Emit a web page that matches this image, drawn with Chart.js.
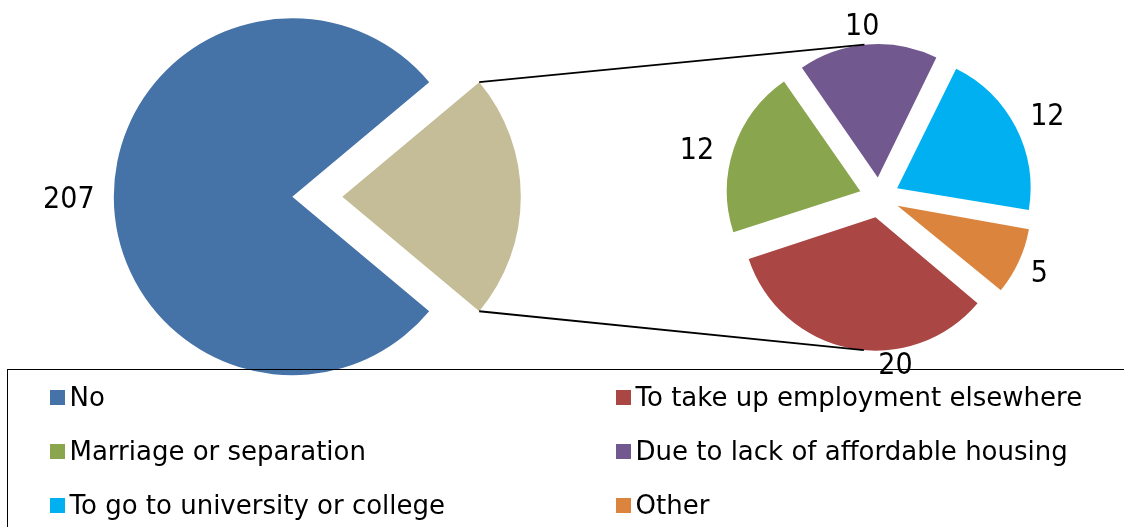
<!DOCTYPE html>
<html>
<head>
<meta charset="utf-8">
<script src="https://cdn.jsdelivr.net/npm/chart.js@4/dist/chart.umd.min.js"></script>
<style>
  html, body { margin: 0; padding: 0; background: #ffffff; }
  #stage { position: relative; width: 1124px; height: 527px; overflow: hidden; background: #ffffff; }
  #stage canvas { position: absolute; left: 0; top: 0; }
  #legend {
    position: absolute; left: 7px; top: 369px; width: 1200px; height: 220px;
    border: 1.5px solid #000; box-sizing: border-box;
    font-family: "DejaVu Sans", sans-serif; font-size: 26px; color: #000;
  }
  #legend .item { position: absolute; display: flex; align-items: center; height: 54px; white-space: nowrap; }
  #legend .box { width: 15px; height: 15px; margin-right: 5px; flex: none; }
</style>
</head>
<body>
<div id="stage">
  <canvas id="mainPie" width="1124" height="527"></canvas>
  <canvas id="subPie" width="1124" height="527"></canvas>
  <div id="legend"></div>
</div>
<script>
// ---- data ----
const mainCategories = ['No', 'Other reasons'];
const noCount = 207;
const reasonCategories = [
  'To take up employment elsewhere',
  'Marriage or separation',
  'Due to lack of affordable housing',
  'To go to university or college',
  'Other'
];
const reasonValues = [20, 12, 10, 12, 5];
const mainValues = [noCount, reasonValues.reduce((a, b) => a + b, 0)];

// ---- styles ----
const mainColors = ['#4572A7', '#C4BD97'];
const reasonColors = ['#AA4643', '#89A54E', '#71588F', '#00B0F0', '#DB843D'];
const labelSize = 30;
const labelFont = labelSize + 'px "DejaVu Sans Condensed", "DejaVu Sans", sans-serif';
const W = 1124, H = 527;
const mainCenter = { x: 292.3, y: 196.7 }, mainRadius = 178.5;
const subCenter = { x: 879.3, y: 197.5 }, subRadius = 133.5;
const mainSplitOffset = 200;   // Chart.js draws offset/4 => 50px
const subOffset = 80;          // => 20px
const rotationDeg = 90 + 180 * mainValues[1] / (mainValues[0] + mainValues[1]);

function padFor(c) {
  return {
    left: Math.max(0, 2 * c.x - W), right: Math.max(0, W - 2 * c.x),
    top: Math.max(0, 2 * c.y - H), bottom: Math.max(0, H - 2 * c.y)
  };
}

// keep exploded slices at the nominal radius (Chart.js grows offset arcs slightly)
const radiusFix = {
  id: 'radiusFix',
  beforeDatasetsDraw(chart) {
    const meta = chart.getDatasetMeta(0);
    const R = meta.controller.outerRadius;
    meta.data.forEach(arc => {
      const off = (arc.options.offset || 0) / 4;
      const circ = arc.endAngle - arc.startAngle;
      const fix = 1 - Math.sin(Math.min(Math.PI, circ));
      arc.outerRadius = R - off * fix;
    });
  }
};

function apexOf(arc) {
  const off = (arc.options.offset || 0) / 4;
  const mid = (arc.startAngle + arc.endAngle) / 2;
  return { x: arc.x + Math.cos(mid) * off, y: arc.y + Math.sin(mid) * off, mid };
}

const pieLabels = {
  id: 'pieLabels',
  afterDatasetsDraw(chart, args, opts) {
    const meta = chart.getDatasetMeta(0);
    const R = meta.controller.outerRadius;
    const values = chart.data.datasets[0].data;
    const ctx = chart.ctx;
    ctx.save();
    ctx.font = labelFont;
    ctx.fillStyle = '#000';
    ctx.textAlign = 'center';
    ctx.textBaseline = 'alphabetic';
    meta.data.forEach((arc, i) => {
      const n = opts.place[i];
      if (!n) return;
      const a = apexOf(arc);
      const ang = a.mid + n.da * Math.PI / 180;
      const d = R + n.dr;
      const x = a.x + Math.cos(ang) * d;
      const y = a.y + Math.sin(ang) * d;
      ctx.fillText(String(values[i]), x, y + labelSize * 0.729 / 2);
    });
    ctx.restore();
  }
};

const mainChart = new Chart(document.getElementById('mainPie'), {
  type: 'pie',
  data: {
    labels: mainCategories,
    datasets: [{
      data: mainValues,
      backgroundColor: mainColors,
      borderWidth: 0,
      offset: [0, mainSplitOffset],
      hoverOffset: 0,
      radius: mainRadius,
      rotation: rotationDeg,
      clip: false
    }]
  },
  options: {
    responsive: false,
    animation: false,
    events: [],
    layout: { padding: padFor(mainCenter), autoPadding: false },
    plugins: {
      legend: { display: false },
      tooltip: { enabled: false },
      pieLabels: { place: [{ da: 0, dr: 45 }, null] }
    }
  },
  plugins: [radiusFix, pieLabels]
});

const connectors = {
  id: 'connectors',
  afterDatasetsDraw(chart) {
    const mArc = mainChart.getDatasetMeta(0).data[1];
    const mR = mainChart.getDatasetMeta(0).controller.outerRadius;
    const a = apexOf(mArc);
    const sMeta = chart.getDatasetMeta(0);
    const s0 = sMeta.data[0];
    const cx = s0.x, cy = s0.y;
    const rr = sMeta.controller.outerRadius + (s0.options.offset || 0) / 4;
    const ctx = chart.ctx;
    ctx.save();
    ctx.strokeStyle = '#000';
    ctx.lineWidth = 1.8;
    [[mArc.startAngle, 1], [mArc.endAngle, -1]].forEach(([ang, sgn]) => {
      const px = a.x + Math.cos(ang) * mR, py = a.y + Math.sin(ang) * mR;
      const dx = px - cx, dy = py - cy;
      const dist = Math.hypot(dx, dy);
      const phi = Math.atan2(dy, dx) + sgn * Math.acos(rr / dist);
      const tx = cx + Math.cos(phi) * rr, ty = cy + Math.sin(phi) * rr;
      ctx.beginPath();
      ctx.moveTo(px, py);
      ctx.lineTo(tx, ty);
      ctx.stroke();
    });
    ctx.restore();
  }
};

new Chart(document.getElementById('subPie'), {
  type: 'pie',
  data: {
    labels: reasonCategories,
    datasets: [{
      data: reasonValues,
      backgroundColor: reasonColors,
      borderWidth: 0,
      offset: subOffset,
      hoverOffset: 0,
      radius: subRadius,
      rotation: rotationDeg,
      clip: false
    }]
  },
  options: {
    responsive: false,
    animation: false,
    events: [],
    layout: { padding: padFor(subCenter), autoPadding: false },
    plugins: {
      legend: { display: false },
      tooltip: { enabled: false },
      pieLabels: {
        place: [
          { da: -18.7, dr: 13.8 },
          { da: -3.7, dr: 35.5 },
          { da: -1.5, dr: 20.7 },
          { da: 0.9, dr: 34.1 },
          { da: 0, dr: 22.5 }
        ]
      }
    }
  },
  plugins: [radiusFix, pieLabels, connectors]
});

// ---- legend (two columns, row-major) ----
const legendNames = [mainCategories[0], ...reasonCategories];
const legendColors = [mainColors[0], ...reasonColors];
const legendEl = document.getElementById('legend');
const colX = [41.5, 607.5];
legendNames.forEach((name, i) => {
  const item = document.createElement('div');
  item.className = 'item';
  item.style.left = colX[i % 2] + 'px';
  item.style.top = (Math.floor(i / 2) * 54) + 'px';
  const box = document.createElement('span');
  box.className = 'box';
  box.style.background = legendColors[i];
  const txt = document.createElement('span');
  txt.textContent = name;
  item.appendChild(box);
  item.appendChild(txt);
  legendEl.appendChild(item);
});
</script>
</body>
</html>
